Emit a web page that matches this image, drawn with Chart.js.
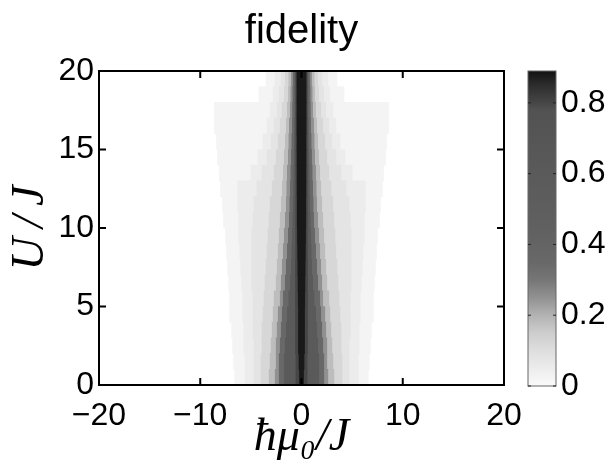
<!DOCTYPE html>
<html>
<head>
<meta charset="utf-8">
<script src="https://cdn.jsdelivr.net/npm/chart.js@4.4.0/dist/chart.umd.min.js"></script>
<style>
  body { margin: 0; background: #fff; }
  #wrap { position: relative; width: 610px; height: 471px; }
  #main { position: absolute; left: 0; top: 0; }
  #cbar { position: absolute; left: 500px; top: 0; }
</style>
</head>
<body>
<div id="wrap">
  <canvas id="main" width="603" height="471"></canvas>
  <canvas id="cbar" width="110" height="471"></canvas>
</div>
<script>
// U/J row centres, each row is 1 unit tall
const uRows = [0.5, 1.5, 2.5, 3.5, 4.5, 5.5, 6.5, 7.5, 8.5, 9.5,
               10.5, 11.5, 12.5, 13.5, 14.5, 15.5, 16.5, 17.5, 18.5, 19.5];

// fidelity contour levels and the half-width (in hbar*mu0/J) of each level per row
const levels = [0.02, 0.05, 0.08, 0.12, 0.18, 0.25, 0.35, 0.6, 0.8, 0.88];
const w002 = [6.6, 6.7, 6.8, 6.9, 7.1, 7.1, 7.2, 7.3, 7.4, 7.5, 7.7, 7.8, 8.0, 8.1, 8.3, 8.4, 8.6, 8.6, 4.2, 3.5];
const w005 = [5.6, 5.6, 5.7, 5.7, 5.8, 5.8, 5.9, 6.0, 6.1, 6.2, 6.2, 6.3, 6.3, 5.0, 4.3, 3.8, 3.4, 3.1, 2.8, 2.6];
const w008 = [4.7, 4.7, 4.7, 4.8, 4.8, 4.8, 4.9, 4.9, 4.9, 4.9, 4.8, 4.7, 4.4, 3.9, 3.4, 3.0, 2.7, 2.4, 2.2, 2.0];
const w012 = [4.0, 4.0, 3.9, 3.9, 3.8, 3.7, 3.6, 3.5, 3.4, 3.3, 3.2, 3.1, 2.9, 2.7, 2.5, 2.3, 2.1, 1.9, 1.7, 1.6];
const w018 = [3.2, 3.1, 3.0, 2.9, 2.8, 2.7, 2.5, 2.4, 2.3, 2.2, 2.1, 2.0, 1.9, 1.8, 1.7, 1.6, 1.5, 1.4, 1.3, 1.25];
const w025 = [2.6, 2.5, 2.5, 2.4, 2.3, 2.1, 2.0, 1.9, 1.8, 1.7, 1.6, 1.5, 1.45, 1.4, 1.3, 1.25, 1.2, 1.1, 1.05, 1.0];
const w035 = [2.2, 2.2, 2.1, 2.0, 1.9, 1.8, 1.6, 1.5, 1.4, 1.3, 1.2, 1.15, 1.1, 1.05, 1.0, 0.95, 0.9, 0.88, 0.85, 0.82];
const w060 = [1.7, 1.7, 1.6, 1.5, 1.4, 1.25, 1.1, 1.0, 0.95, 0.9, 0.85, 0.8, 0.78, 0.75, 0.72, 0.7, 0.68, 0.66, 0.65, 0.64];
const w080 = [0.55, 0.55, 0.6, 0.6, 0.6, 0.6, 0.6, 0.6, 0.58, 0.58, 0.58, 0.58, 0.57, 0.57, 0.57, 0.56, 0.56, 0.56, 0.56, 0.56];
const w088 = [0.2, 0.25, 0.3, 0.3, 0.3, 0.32, 0.34, 0.36, 0.38, 0.4, 0.42, 0.42, 0.43, 0.43, 0.44, 0.44, 0.45, 0.45, 0.45, 0.45];
const halfWidths = [w002, w005, w008, w012, w018, w025, w035, w060, w080, w088];

// axes
const xTicks = [-20, -10, 0, 10, 20];
const xTickLabels = ['\u221220', '\u221210', '0', '10', '20'];
const yTicks = [0, 5, 10, 15, 20];
const yTickLabels = ['0', '5', '10', '15', '20'];

// colour map (value -> grey level)
const cbStops = [0, 0.05, 0.1, 0.15, 0.2, 0.25, 0.3, 0.35, 0.45, 0.6, 0.78, 0.8, 0.85, 0.89];
const cbGrays = [250, 236, 222, 205, 178, 145, 118, 104, 96, 90, 82, 70, 45, 18];
const cbMax = 0.89;
const cbTicks = [0, 0.2, 0.4, 0.6, 0.8];
const cbTickLabels = ['0', '0.2', '0.4', '0.6', '0.8'];

const sansFont = "'Liberation Sans', Arial, Helvetica, sans-serif";
const mathFont = "'Liberation Serif', 'DejaVu Serif', serif";

function grayFor(v) {
  let g = cbGrays[cbGrays.length - 1];
  for (let i = 0; i < cbStops.length - 1; i++) {
    if (v >= cbStops[i] && v <= cbStops[i + 1]) {
      const t = (v - cbStops[i]) / (cbStops[i + 1] - cbStops[i]);
      g = cbGrays[i] + t * (cbGrays[i + 1] - cbGrays[i]);
      break;
    }
  }
  g = Math.round(g);
  return 'rgb(' + g + ',' + g + ',' + g + ')';
}

// box + inward ticks on every side
const framePlugin = {
  id: 'frame',
  afterDraw(chart, args, opts) {
    const { ctx, chartArea: a, scales } = chart;
    ctx.save();
    ctx.strokeStyle = opts.color;
    ctx.lineWidth = opts.width;
    ctx.strokeRect(a.left, a.top, a.right - a.left, a.bottom - a.top);
    ctx.strokeStyle = opts.tickColor;
    ctx.lineWidth = opts.tickWidth;
    ctx.beginPath();
    if (opts.xTicks) {
      scales.x.ticks.forEach(t => {
        const px = scales.x.getPixelForValue(t.value);
        ctx.moveTo(px, a.bottom); ctx.lineTo(px, a.bottom - opts.tickLen);
        ctx.moveTo(px, a.top); ctx.lineTo(px, a.top + opts.tickLen);
      });
    }
    scales.y.ticks.forEach(t => {
      const py = scales.y.getPixelForValue(t.value);
      ctx.moveTo(a.left, py); ctx.lineTo(a.left + opts.tickLen, py);
      ctx.moveTo(a.right, py); ctx.lineTo(a.right - opts.tickLen, py);
    });
    ctx.stroke();
    ctx.restore();
  }
};

// Fidelity map
const mainCtx = document.getElementById('main');
new Chart(mainCtx, {
  type: 'bar',
  data: {
    datasets: levels.map((lv, k) => ({
      label: 'F ' + lv,
      data: uRows.map((u, i) => ({ y: u, x: [-halfWidths[k][i], halfWidths[k][i]] })),
      backgroundColor: grayFor(lv),
      borderWidth: 0,
      grouped: false,
      barPercentage: 1,
      categoryPercentage: 1,
      order: levels.length - k
    }))
  },
  options: {
    indexAxis: 'y',
    responsive: false,
    animation: false,
    layout: { padding: 0 },
    scales: {
      x: {
        type: 'linear',
        min: -20,
        max: 20,
        afterBuildTicks: s => { s.ticks = xTicks.map(v => ({ value: v })); },
        afterFit: s => { s.height = 86; },
        grid: { display: false, drawTicks: false },
        border: { display: false },
        ticks: {
          padding: 12,
          color: '#000',
          font: { family: sansFont, size: 32 },
          maxRotation: 0,
          callback: v => xTickLabels[xTicks.indexOf(v)]
        },
        title: {
          display: true,
          text: '\u0127\u03bc\u2080/J',
          color: '#000',
          font: { family: mathFont, size: 46, style: 'italic', lineHeight: 1.2 },
          padding: { top: 0, bottom: 5 }
        }
      },
      y: {
        type: 'linear',
        min: 0,
        max: 20,
        offset: false,
        afterBuildTicks: s => { s.ticks = yTicks.map(v => ({ value: v })); },
        afterFit: s => { s.width = 99; },
        grid: { display: false, drawTicks: false },
        border: { display: false },
        ticks: {
          padding: 5,
          color: '#000',
          font: { family: sansFont, size: 32 },
          callback: v => yTickLabels[yTicks.indexOf(v)]
        },
        title: {
          display: true,
          text: 'U\u2009/\u2009J',
          color: '#000',
          font: { family: mathFont, size: 46, style: 'italic', lineHeight: 1.2 },
          padding: { top: 3, bottom: 0 }
        }
      },
      // empty right-hand axis only to reserve the space where the colour bar sits
      yRight: {
        type: 'linear',
        position: 'right',
        min: 0,
        max: 20,
        afterFit: s => { s.width = 99; },
        grid: { display: false, drawTicks: false },
        border: { display: false },
        ticks: { display: false }
      }
    },
    plugins: {
      legend: { display: false },
      tooltip: { enabled: false },
      title: {
        display: true,
        text: 'fidelity',
        color: '#000',
        font: { family: sansFont, size: 40, weight: 'normal', lineHeight: 1.2 },
        padding: { top: 8, bottom: 15 }
      },
      frame: { color: '#000', width: 2, tickColor: '#000', tickWidth: 2, tickLen: 7, xTicks: true }
    }
  },
  plugins: [framePlugin]
});

// Colour bar
const cbarCtx = document.getElementById('cbar');
new Chart(cbarCtx, {
  type: 'bar',
  data: {
    labels: [''],
    datasets: [{
      data: [[0, cbMax]],
      borderWidth: 0,
      barPercentage: 1,
      categoryPercentage: 1,
      backgroundColor: (c) => {
        const chart = c.chart;
        const ys = chart.scales.y;
        if (!chart.chartArea || !ys) return '#888';
        const y0 = ys.getPixelForValue(0);
        const y1 = ys.getPixelForValue(cbMax);
        const g = chart.ctx.createLinearGradient(0, y0, 0, y1);
        cbStops.forEach((v, i) => {
          const k = cbGrays[i];
          g.addColorStop(v / cbMax, 'rgb(' + k + ',' + k + ',' + k + ')');
        });
        return g;
      }
    }]
  },
  options: {
    responsive: false,
    animation: false,
    layout: { padding: { left: 28, right: 0, top: 71, bottom: 85 } },
    scales: {
      x: { display: false },
      y: {
        type: 'linear',
        position: 'right',
        min: 0,
        max: cbMax,
        afterBuildTicks: s => { s.ticks = cbTicks.map(v => ({ value: v })); },
        afterFit: s => { s.width = 54; },
        grid: { display: false, drawTicks: false },
        border: { display: false },
        ticks: {
          padding: 5,
          color: '#000',
          font: { family: sansFont, size: 32 },
          callback: v => cbTickLabels[cbTicks.indexOf(v)]
        }
      }
    },
    plugins: {
      legend: { display: false },
      tooltip: { enabled: false },
      frame: { color: '#666', width: 1, tickColor: '#222', tickWidth: 1, tickLen: 3, xTicks: false }
    }
  },
  plugins: [framePlugin]
});
</script>
</body>
</html>
